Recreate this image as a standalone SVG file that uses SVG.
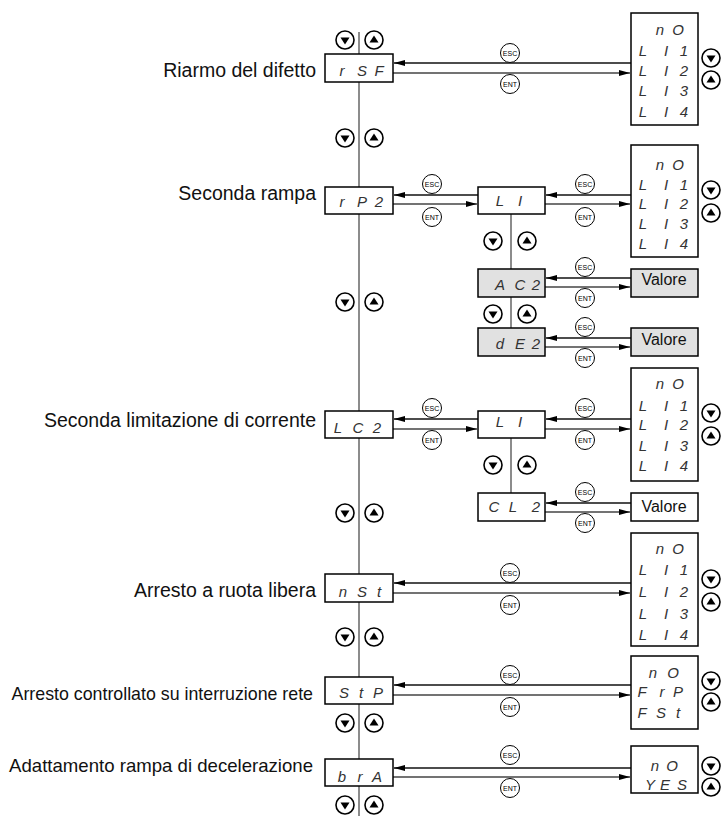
<svg xmlns="http://www.w3.org/2000/svg" width="725" height="816" viewBox="0 0 725 816">
<defs>
<style>
.bg{fill:#fff}
.box{fill:#fff;stroke:#000;stroke-width:1.5}
.gbox{fill:#e1e1e1;stroke:#000;stroke-width:1.5}
.vl{stroke:#666;stroke-width:1.5;fill:none}
.esc{stroke:#111;stroke-width:1.3;fill:none;marker-end:url(#ah)}
.ent{stroke:#444;stroke-width:1.3;fill:none;marker-end:url(#ah)}
.lbl{font-family:"Liberation Sans",Arial,sans-serif;font-size:19.5px;fill:#111;text-anchor:end}
.seg{font-family:"Liberation Sans",Arial,sans-serif;font-style:italic;font-size:15px;fill:#333;text-anchor:middle}
.val{font-family:"Liberation Sans",Arial,sans-serif;font-size:16px;fill:#111;text-anchor:middle}
.kc{fill:#fff;stroke:#000;stroke-width:1}
.kt{font-family:"Liberation Sans",Arial,sans-serif;font-size:7px;fill:#000;text-anchor:middle}
.bc{fill:#fff;stroke:#000;stroke-width:1.6}
.tri{fill:#000}
</style>
<marker id="ah" markerUnits="userSpaceOnUse" markerWidth="12" markerHeight="6" refX="11" refY="3" orient="auto">
<path d="M0,0 L11,3 L0,6 z" fill="#000"/>
</marker>
<g id="dn"><circle class="bc" r="9"/><path class="tri" d="M-4.5,-2.5 L4.5,-2.5 L0,4.5 z"/></g>
<g id="up"><circle class="bc" r="9"/><path class="tri" d="M-4.5,2.5 L4.5,2.5 L0,-4.5 z"/></g>
</defs>
<rect class="bg" x="0" y="0" width="725" height="816"/>

<g id="connectors">
<line class="vl" x1="359" y1="32" x2="359" y2="816"/>
<line class="vl" x1="511" y1="214" x2="511" y2="328"/>
<line class="vl" x1="511" y1="438" x2="511" y2="493"/>
<line class="esc" x1="631" y1="63" x2="394" y2="63"/>
<line class="ent" x1="393" y1="73" x2="630" y2="73"/>
<line class="esc" x1="478" y1="195" x2="394" y2="195"/>
<line class="ent" x1="393" y1="204" x2="477" y2="204"/>
<line class="esc" x1="631" y1="195" x2="546" y2="195"/>
<line class="ent" x1="545" y1="204" x2="630" y2="204"/>
<line class="esc" x1="631" y1="278" x2="546" y2="278"/>
<line class="ent" x1="545" y1="287" x2="630" y2="287"/>
<line class="esc" x1="631" y1="338" x2="546" y2="338"/>
<line class="ent" x1="545" y1="347" x2="630" y2="347"/>
<line class="esc" x1="478" y1="419" x2="394" y2="419"/>
<line class="ent" x1="393" y1="429" x2="477" y2="429"/>
<line class="esc" x1="631" y1="419" x2="546" y2="419"/>
<line class="ent" x1="545" y1="429" x2="630" y2="429"/>
<line class="esc" x1="631" y1="503" x2="546" y2="503"/>
<line class="ent" x1="545" y1="512" x2="630" y2="512"/>
<line class="esc" x1="631" y1="583" x2="394" y2="583"/>
<line class="ent" x1="393" y1="593" x2="630" y2="593"/>
<line class="esc" x1="631" y1="685" x2="394" y2="685"/>
<line class="ent" x1="393" y1="695" x2="630" y2="695"/>
<line class="esc" x1="631" y1="768" x2="394" y2="768"/>
<line class="ent" x1="393" y1="777" x2="630" y2="777"/>
</g>

<g id="keys">
<use href="#dn" x="345" y="40"/><use href="#up" x="374" y="40"/>
<use href="#dn" x="345" y="138"/><use href="#up" x="374" y="138"/>
<use href="#dn" x="345" y="302"/><use href="#up" x="374" y="302"/>
<use href="#dn" x="345" y="513"/><use href="#up" x="374" y="513"/>
<use href="#dn" x="345" y="637"/><use href="#up" x="374" y="637"/>
<use href="#dn" x="345" y="723"/><use href="#up" x="374" y="723"/>
<use href="#dn" x="345" y="805"/><use href="#up" x="374" y="805"/>
<use href="#dn" x="493" y="241"/><use href="#up" x="527" y="241"/>
<use href="#dn" x="493" y="314"/><use href="#up" x="527" y="314"/>
<use href="#dn" x="493" y="465"/><use href="#up" x="527" y="465"/>
<use href="#dn" x="711" y="58"/><use href="#up" x="711" y="80"/>
<use href="#dn" x="711" y="190"/><use href="#up" x="711" y="213"/>
<use href="#dn" x="711" y="413"/><use href="#up" x="711" y="436"/>
<use href="#dn" x="711" y="579"/><use href="#up" x="711" y="602"/>
<use href="#dn" x="711" y="681"/><use href="#up" x="711" y="702"/>
<use href="#dn" x="711" y="766"/><use href="#up" x="711" y="787"/>
</g>

<g id="esc-ent">
<circle class="kc" cx="510" cy="53" r="9.5"/><text class="kt" x="510" y="55.5">ESC</text>
<circle class="kc" cx="510" cy="84" r="9.5"/><text class="kt" x="510" y="86.5">ENT</text>
<circle class="kc" cx="432" cy="184" r="9.5"/><text class="kt" x="432" y="186.5">ESC</text>
<circle class="kc" cx="432" cy="217" r="9.5"/><text class="kt" x="432" y="219.5">ENT</text>
<circle class="kc" cx="585" cy="184" r="9.5"/><text class="kt" x="585" y="186.5">ESC</text>
<circle class="kc" cx="585" cy="217" r="9.5"/><text class="kt" x="585" y="219.5">ENT</text>
<circle class="kc" cx="585" cy="267" r="9.5"/><text class="kt" x="585" y="269.5">ESC</text>
<circle class="kc" cx="585" cy="298" r="9.5"/><text class="kt" x="585" y="300.5">ENT</text>
<circle class="kc" cx="585" cy="327" r="9.5"/><text class="kt" x="585" y="329.5">ESC</text>
<circle class="kc" cx="585" cy="358" r="9.5"/><text class="kt" x="585" y="360.5">ENT</text>
<circle class="kc" cx="432" cy="408" r="9.5"/><text class="kt" x="432" y="410.5">ESC</text>
<circle class="kc" cx="432" cy="440" r="9.5"/><text class="kt" x="432" y="442.5">ENT</text>
<circle class="kc" cx="585" cy="408" r="9.5"/><text class="kt" x="585" y="410.5">ESC</text>
<circle class="kc" cx="585" cy="440" r="9.5"/><text class="kt" x="585" y="442.5">ENT</text>
<circle class="kc" cx="585" cy="492" r="9.5"/><text class="kt" x="585" y="494.5">ESC</text>
<circle class="kc" cx="585" cy="523" r="9.5"/><text class="kt" x="585" y="525.5">ENT</text>
<circle class="kc" cx="510" cy="573" r="9.5"/><text class="kt" x="510" y="575.5">ESC</text>
<circle class="kc" cx="510" cy="605" r="9.5"/><text class="kt" x="510" y="607.5">ENT</text>
<circle class="kc" cx="510" cy="675" r="9.5"/><text class="kt" x="510" y="677.5">ESC</text>
<circle class="kc" cx="510" cy="707" r="9.5"/><text class="kt" x="510" y="709.5">ENT</text>
<circle class="kc" cx="510" cy="755" r="9.5"/><text class="kt" x="510" y="757.5">ESC</text>
<circle class="kc" cx="510" cy="788" r="9.5"/><text class="kt" x="510" y="790.5">ENT</text>
</g>

<g id="labels">
<text class="lbl" x="316" y="77">Riarmo del difetto</text>
<text class="lbl" x="316" y="200">Seconda rampa</text>
<text class="lbl" x="316" y="427">Seconda limitazione di corrente</text>
<text class="lbl" x="316" y="597">Arresto a ruota libera</text>
<text class="lbl" x="313" y="700" style="font-size:17.8px">Arresto controllato su interruzione rete</text>
<text class="lbl" x="313" y="772" style="font-size:18.6px">Adattamento rampa di decelerazione</text>
</g>

<g id="node-rSF"><rect class="box" x="325" y="54" width="68" height="28"/><text class="seg" x="342 362 379" y="76">rSF</text></g>
<g id="node-rP2"><rect class="box" x="325" y="187" width="68" height="27"/><text class="seg" x="342 362 379" y="207">rP2</text></g>
<g id="node-LC2"><rect class="box" x="325" y="411" width="68" height="27"/><text class="seg" x="338 358 377" y="433">LC2</text></g>
<g id="node-nSt"><rect class="box" x="325" y="574" width="68" height="28"/><text class="seg" x="343 362 379" y="597">nSt</text></g>
<g id="node-StP"><rect class="box" x="325" y="677" width="68" height="27"/><text class="seg" x="344 361 378" y="698">StP</text></g>
<g id="node-brA"><rect class="box" x="325" y="759" width="68" height="27"/><text class="seg" x="342 360 377" y="782">brA</text></g>

<g id="node-LI-a"><rect class="box" x="478" y="187" width="67" height="27"/><text class="seg" x="500 520" y="206">LI</text></g>
<g id="node-AC2"><rect class="gbox" x="478" y="269" width="67" height="28"/><text class="seg" x="500 520 536" y="290">AC2</text></g>
<g id="node-dE2"><rect class="gbox" x="478" y="328" width="67" height="28"/><text class="seg" x="500 520 536" y="349">dE2</text></g>
<g id="node-LI-b"><rect class="box" x="478" y="411" width="67" height="27"/><text class="seg" x="500 520" y="427">LI</text></g>
<g id="node-CL2"><rect class="box" x="478" y="493" width="67" height="28"/><text class="seg" x="494 513 536" y="512">CL2</text></g>

<g id="node-list-rSF"><rect class="box" x="631" y="13" width="67" height="112"/>
<text class="seg" x="660 678" y="35">nO</text>
<text class="seg" x="643 666 684" y="56">LI1</text>
<text class="seg" x="643 666 684" y="76">LI2</text>
<text class="seg" x="643 666 684" y="96">LI3</text>
<text class="seg" x="643 666 684" y="117">LI4</text></g>

<g id="node-list-rP2"><rect class="box" x="631" y="145" width="67" height="112"/>
<text class="seg" x="660 678" y="170">nO</text>
<text class="seg" x="643 666 684" y="190">LI1</text>
<text class="seg" x="643 666 684" y="209">LI2</text>
<text class="seg" x="643 666 684" y="229">LI3</text>
<text class="seg" x="643 666 684" y="249">LI4</text></g>

<g id="node-val-AC2"><rect class="gbox" x="631" y="269" width="67" height="28"/><text class="val" x="664" y="285">Valore</text></g>
<g id="node-val-dE2"><rect class="gbox" x="631" y="328" width="67" height="28"/><text class="val" x="664" y="345">Valore</text></g>

<g id="node-list-LC2"><rect class="box" x="631" y="368" width="67" height="113"/>
<text class="seg" x="660 678" y="389">nO</text>
<text class="seg" x="643 666 684" y="411">LI1</text>
<text class="seg" x="643 666 684" y="430">LI2</text>
<text class="seg" x="643 666 684" y="451">LI3</text>
<text class="seg" x="643 666 684" y="471">LI4</text></g>

<g id="node-val-CL2"><rect class="box" x="631" y="493" width="67" height="28"/><text class="val" x="664" y="512">Valore</text></g>

<g id="node-list-nSt"><rect class="box" x="631" y="533" width="67" height="113"/>
<text class="seg" x="660 678" y="554">nO</text>
<text class="seg" x="643 666 684" y="575">LI1</text>
<text class="seg" x="643 666 684" y="597">LI2</text>
<text class="seg" x="643 666 684" y="619">LI3</text>
<text class="seg" x="643 666 684" y="640">LI4</text></g>

<g id="node-list-StP"><rect class="box" x="631" y="656" width="67" height="73"/>
<text class="seg" x="653 673" y="678">nO</text>
<text class="seg" x="642 662 678" y="697">FrP</text>
<text class="seg" x="642 661 678" y="718">FSt</text></g>

<g id="node-list-brA"><rect class="box" x="631" y="746" width="67" height="47"/>
<text class="seg" x="655 672" y="771">nO</text>
<text class="seg" x="650 665 682" y="790">YES</text></g>
</svg>
